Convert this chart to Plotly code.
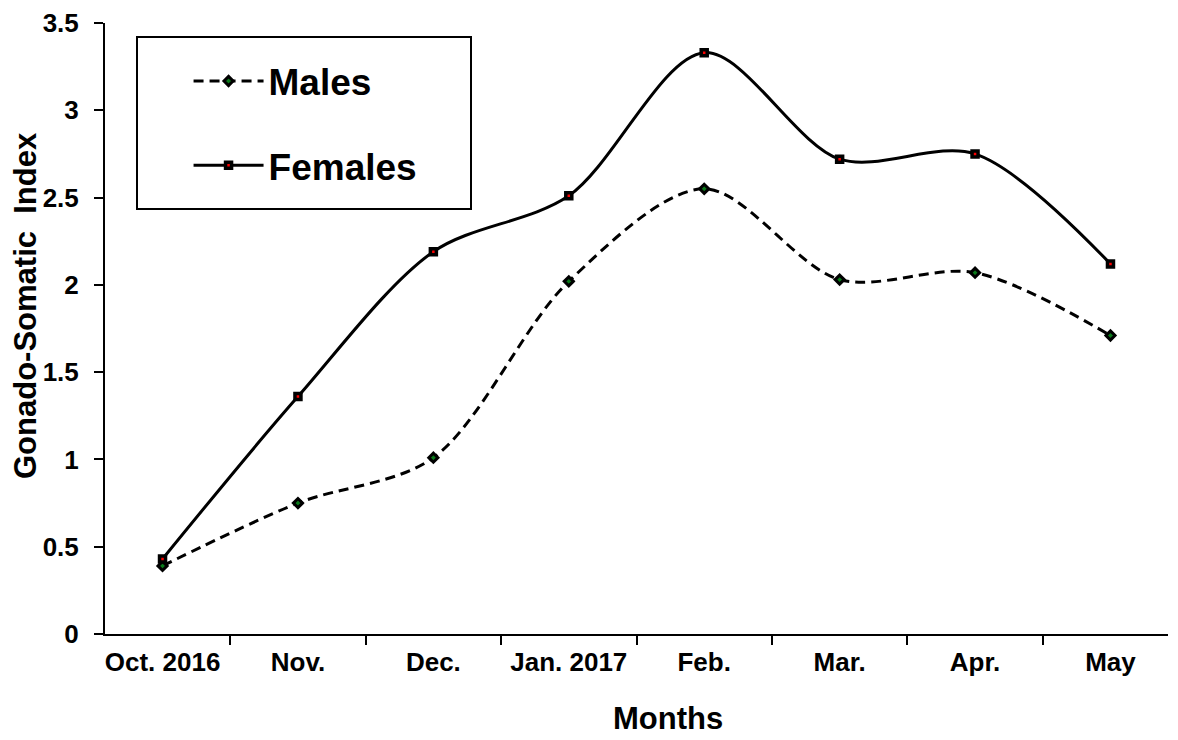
import plotly.graph_objects as go

months = ["Oct. 2016", "Nov.", "Dec.", "Jan. 2017", "Feb.", "Mar.", "Apr.", "May"]
males = [0.39, 0.75, 1.01, 2.02, 2.55, 2.03, 2.07, 1.71]
females = [0.43, 1.36, 2.19, 2.51, 3.33, 2.72, 2.75, 2.12]
x_title = "Months"
y_title = "Gonado-Somatic  Index"

FONT = "Arial, Liberation Sans, sans-serif"
PW, PH = 1063, 611  # plot area size in px

fig = go.Figure()
fig.add_trace(go.Scatter(
    x=months, y=males, name="Males", mode="lines+markers",
    line=dict(color="black", width=3, dash="10px,6px", shape="spline", smoothing=0.9),
    marker=dict(symbol="diamond", size=7, color="#0a7a1a", line=dict(color="black", width=3)),
    legendgroup="m",
))
fig.add_trace(go.Scatter(
    x=months, y=females, name="Females", mode="lines+markers",
    line=dict(color="black", width=3, shape="spline", smoothing=0.9),
    marker=dict(symbol="square", size=6, color="red", line=dict(color="black", width=3.5)),
    legendgroup="f",
))

fig.update_layout(
    width=1170, height=732,
    margin=dict(l=97, r=10, t=15, b=106),
    paper_bgcolor="white", plot_bgcolor="white",
    font=dict(family=FONT, color="black"),
    showlegend=True,
    legend=dict(
        x=0.0786, y=0.955, xanchor="left", yanchor="top",
        bgcolor="rgba(0,0,0,0)", borderwidth=0,
        font=dict(size=37, family=FONT, color="black", weight="bold"),
        itemwidth=70, tracegroupgap=33, traceorder="grouped",
    ),
    xaxis=dict(
        type="category", showline=True, linecolor="black", linewidth=2,
        ticks="outside", tickson="boundaries", ticklen=9, tickwidth=2, tickcolor="black",
        showgrid=False, zeroline=False, automargin=False, ticklabelstandoff=4,
        tickfont=dict(size=26, family=FONT, weight="bold"),
    ),
    yaxis=dict(
        range=[0, 3.5], dtick=0.5, showline=True, linecolor="black", linewidth=2,
        ticks="outside", ticklen=9, tickwidth=2, tickcolor="black",
        showgrid=False, zeroline=False, automargin=False, ticklabelstandoff=10,
        tickfont=dict(size=26, family=FONT, weight="bold"),
    ),
    annotations=[
        dict(text=x_title, xref="paper", yref="paper", x=(668 - 105) / PW, y=(634 - 718) / PH,
             xanchor="center", yanchor="middle", showarrow=False,
             font=dict(size=31, family=FONT, weight="bold", color="black")),
        dict(text=y_title, xref="paper", yref="paper", x=(25 - 105) / PW, y=(634 - 306) / PH,
             xanchor="center", yanchor="middle", showarrow=False, textangle=-90,
             font=dict(size=31, family=FONT, weight="bold", color="black")),
    ],
    shapes=[dict(type="rect", xref="paper", yref="paper",
                 x0=(137 - 105) / PW, x1=(471 - 105) / PW,
                 y0=(634 - 209) / PH, y1=(634 - 37) / PH,
                 line=dict(color="black", width=2))],
)

fig.write_html("out.html")
